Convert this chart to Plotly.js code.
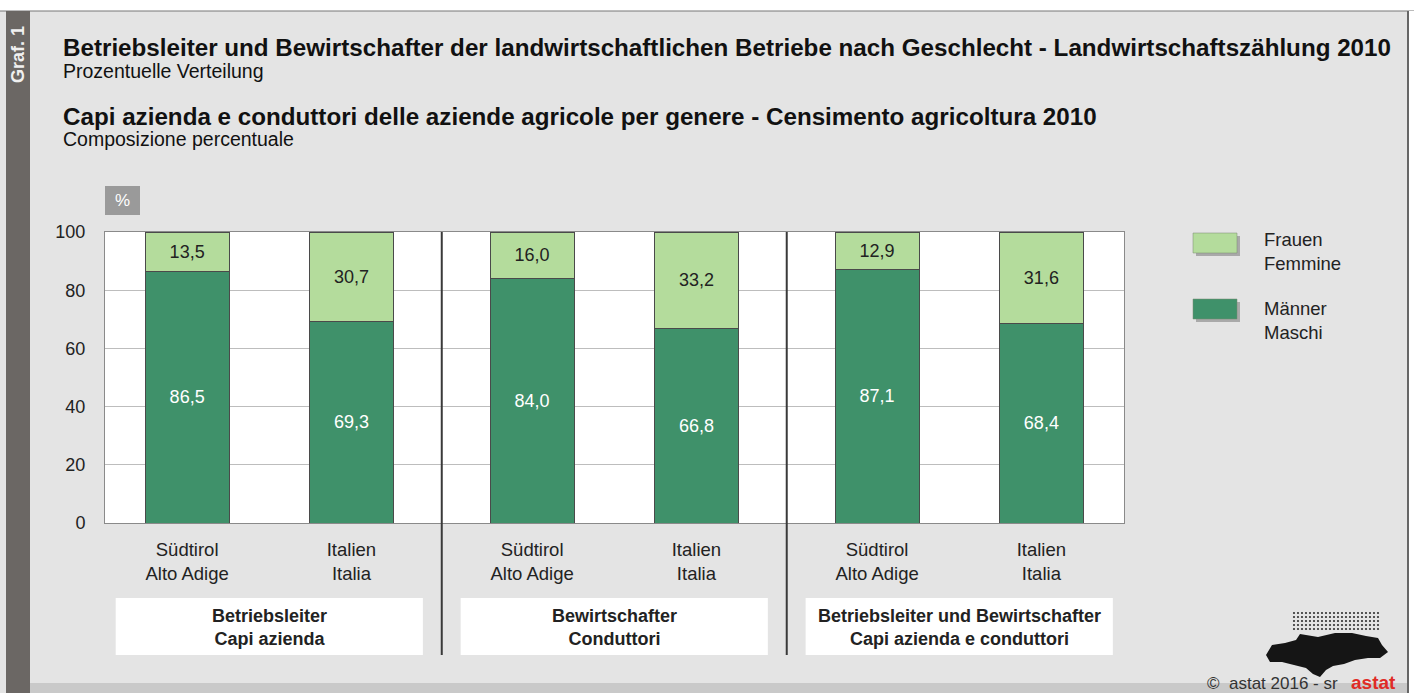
<!DOCTYPE html>
<html>
<head>
<meta charset="utf-8">
<script src="https://cdn.plot.ly/plotly-3.0.1.min.js"></script>
<style>html,body{margin:0;padding:0;background:#fff;}#chart{width:1414px;height:693px;}</style>
</head>
<body>
<div id="chart"></div>
<script>
// ---- data ----
const regions = ["Südtirol<br>Alto Adige", "Italien<br>Italia"];
const groups = ["Betriebsleiter<br>Capi azienda", "Bewirtschafter<br>Conduttori", "Betriebsleiter und Bewirtschafter<br>Capi azienda e conduttori"];
const maenner = [86.5, 69.3, 84.0, 66.8, 87.1, 68.4];
const frauen  = [13.5, 30.7, 16.0, 33.2, 12.9, 31.6];
const yTicks = [0, 20, 40, 60, 80, 100];
const seriesNames = ["Männer<br>Maschi", "Frauen<br>Femmine"];
const titleDe = "Betriebsleiter und Bewirtschafter der landwirtschaftlichen Betriebe nach Geschlecht - Landwirtschaftszählung 2010";
const subDe = "Prozentuelle Verteilung";
const titleIt = "Capi azienda e conduttori delle aziende agricole per genere - Censimento agricoltura 2010";
const subIt = "Composizione percentuale";

// ---- layout helpers ----
const W = 1414, H = 693, L = 105, R = 1124, T = 232, B = 523;
const px = x => (x - L) / (R - L);
const py = y => (B - y) / (B - T);
const GAP = 2.1;
const xs = [], xt = [];
groups.forEach((g, gi) => regions.forEach((r, ri) => { xs.push(gi * GAP + ri); xt.push(r); }));

const FONT = "Liberation Sans, Arial, sans-serif";
const light = "#b4dc9c", dark = "#3f916a";

const traces = [
  {type: "bar", x: xs, y: maenner, name: seriesNames[0], width: 0.512,
   marker: {color: dark, line: {color: "#4a4a4a", width: 1}},
   texttemplate: "%{y:.1f}", textposition: "inside", insidetextanchor: "middle",
   textfont: {family: FONT, size: 18, color: "#ffffff"}, hoverinfo: "skip"},
  {type: "bar", x: xs, y: frauen, name: seriesNames[1], width: 0.512,
   marker: {color: light, line: {color: "#4a4a4a", width: 1}},
   texttemplate: "%{y:.1f}", textposition: "inside", insidetextanchor: "middle",
   textfont: {family: FONT, size: 18, color: "#222222"}, hoverinfo: "skip"}
];

const shapes = [];
const ann = [];
const rectPx = (x0, y0, x1, y1, fill, layer, line) => shapes.push({type: "rect", xref: "paper", yref: "paper",
  x0: px(x0), x1: px(x1), y0: py(y1), y1: py(y0), fillcolor: fill, line: line || {width: 0}, layer: layer || "above"});

// frame decorations
rectPx(0, 0, W, 11, "#ffffff");
shapes.push({type: "line", xref: "paper", yref: "paper", x0: px(0), x1: px(W), y0: py(11), y1: py(11), line: {color: "#777", width: 1}});
rectPx(6, 11, 30, H, "#6b6764");
rectPx(30, 683, 1408, H, "#c9c9c9");
rectPx(1408, 11, W, H, "#ffffff");
shapes.push({type: "line", xref: "paper", yref: "paper", x0: px(1408), x1: px(1408), y0: py(11), y1: py(H), line: {color: "#666", width: 2}});

// % box
rectPx(105, 186, 140, 215, "#9a9a9a");
ann.push({xref: "paper", yref: "paper", x: px(122.5), y: py(200.5), text: "%", showarrow: false,
  font: {family: FONT, size: 17, color: "#fff"}, xanchor: "center", yanchor: "middle"});

// separators
for (let gi = 1; gi < groups.length; gi++) {
  const sx = (gi - 1) * GAP + 1 + (GAP - 1) / 2;
  shapes.push({type: "line", xref: "x", yref: "paper", x0: sx, x1: sx, y0: py(655), y1: 1, line: {color: "#3a3a3a", width: 2}, layer: "above"});
}

// group label boxes
groups.forEach((g, gi) => {
  const c = gi * GAP + 0.5;
  shapes.push({type: "rect", xref: "x", yref: "paper", x0: c - 0.935, x1: c + 0.935, y0: py(655), y1: py(598),
    fillcolor: "#ffffff", line: {width: 0}, layer: "above"});
  ann.push({xref: "x", yref: "paper", x: c, y: py(627), text: "<b>" + g.replace("<br>", "</b><br><b>") + "</b>", showarrow: false,
    font: {family: FONT, size: 18, color: "#222"}, xanchor: "center", yanchor: "middle", align: "center"});
});

// legend (custom)
const legendItems = [[seriesNames[1], light, 233, 253, 251], [seriesNames[0], dark, 299, 319, 320]];
legendItems.forEach(([name, col, y0, y1, ty]) => {
  rectPx(1196, y0 + 3, 1240, y1 + 3, "#a9a9a9");
  rectPx(1193, y0, 1237, y1, col, "above", {color: "#7a8a70", width: 0.5});
  ann.push({xref: "paper", yref: "paper", x: px(1262), y: py(ty), text: name, showarrow: false,
    font: {family: FONT, size: 18.5, color: "#222"}, xanchor: "left", yanchor: "middle", align: "left"});
});

// titles
const tAnn = (text, y, size, bold) => ann.push({xref: "paper", yref: "paper", x: px(61), y: py(y),
  text: bold ? "<b>" + text + "</b>" : text, showarrow: false, xanchor: "left", yanchor: "middle",
  font: {family: FONT, size: size, color: "#111"}});
tAnn(titleDe, 47, 24.2, true);
tAnn(subDe, 71, 19.5, false);
tAnn(titleIt, 116, 24.2, true);
tAnn(subIt, 139, 19.5, false);
ann.push({xref: "paper", yref: "paper", x: px(18), y: py(55), text: "<b>Graf. 1</b>", textangle: -90, showarrow: false,
  font: {family: FONT, size: 18, color: "#f0f0f0"}, xanchor: "center", yanchor: "middle"});

// footer
ann.push({xref: "paper", yref: "paper", x: px(1340), y: py(683), text: "©  astat 2016 - sr", showarrow: false,
  font: {family: FONT, size: 17, color: "#333"}, xanchor: "right", yanchor: "middle"});
ann.push({xref: "paper", yref: "paper", x: px(1398), y: py(682), text: "<b>astat</b>", showarrow: false,
  font: {family: FONT, size: 19, color: "#e02b26"}, xanchor: "right", yanchor: "middle"});

// logo (decorative)
const logoPts = [[1266,655],[1272,645],[1285,643],[1296,640],[1300,634],[1318,637],[1335,633],[1352,633],[1366,636],[1378,638],[1382,645],[1388,652],[1380,658],[1368,658],[1355,660],[1344,664],[1333,666],[1326,670],[1320,677],[1313,674],[1306,668],[1294,665],[1282,662],[1270,662]];
shapes.push({type: "path", xref: "paper", yref: "paper", fillcolor: "#151515", line: {width: 0},
  path: "M" + logoPts.map(p => px(p[0]) + "," + py(p[1])).join(" L") + " Z"});
for (let yy = 613; yy <= 630; yy += 4) {
  for (let xx = 1294; xx <= 1378; xx += 4) {
    shapes.push({type: "circle", xref: "paper", yref: "paper", x0: px(xx - 1.1), x1: px(xx + 1.1), y0: py(yy + 1.1), y1: py(yy - 1.1),
      fillcolor: "#333", line: {width: 0}});
  }
}

const layout = {
  width: W, height: H,
  margin: {l: L, r: W - R, t: T, b: H - B, pad: 0},
  paper_bgcolor: "#e4e4e4", plot_bgcolor: "#ffffff",
  separators: ",.",
  barmode: "stack", showlegend: false,
  font: {family: FONT, size: 18, color: "#222"},
  xaxis: {range: [-0.5, 2 * GAP + 1.503], tickvals: xs, ticktext: xt, showgrid: false, zeroline: false,
    showline: true, mirror: true, linecolor: "#8a8a8a", linewidth: 1,
    ticks: "outside", ticklen: 10, tickcolor: "rgba(0,0,0,0)", tickfont: {family: FONT, size: 18.5, color: "#222"}, fixedrange: true},
  yaxis: {range: [0, 100], tickvals: yTicks, showgrid: true, gridcolor: "#bdbdbd", gridwidth: 1, zeroline: false,
    showline: true, mirror: true, linecolor: "#8a8a8a", linewidth: 1,
    ticks: "outside", ticklen: 15, tickcolor: "rgba(0,0,0,0)", tickfont: {family: FONT, size: 18, color: "#222"}, fixedrange: true},
  shapes: shapes, annotations: ann
};
Plotly.newPlot("chart", traces, layout, {staticPlot: true, displayModeBar: false});
</script>
</body>
</html>
